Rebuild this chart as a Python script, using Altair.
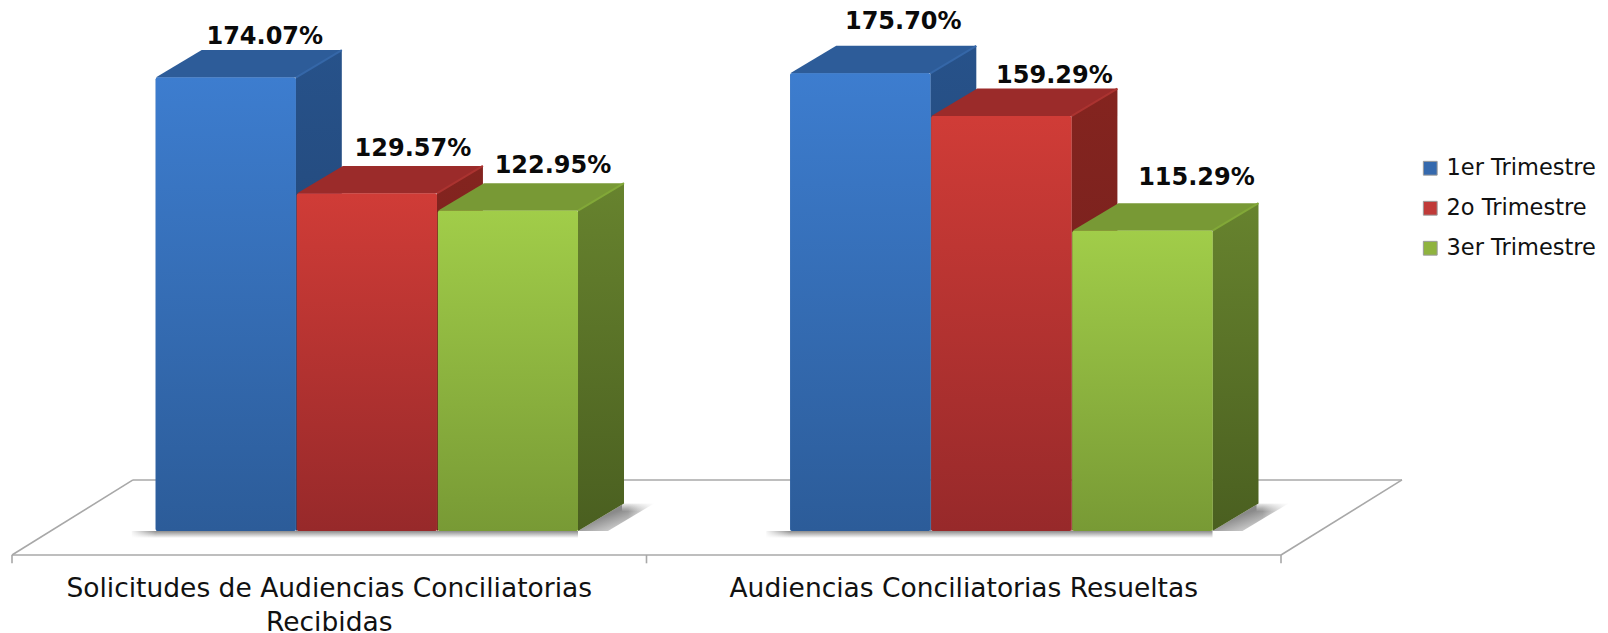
import altair as alt
import pandas as pd

categories = ["Solicitudes de Audiencias Conciliatorias\nRecibidas", "Audiencias Conciliatorias Resueltas"]
series = ["1er Trimestre", "2o Trimestre", "3er Trimestre"]
values_q1 = [174.07, 175.70]
values_q2 = [129.57, 159.29]
values_q3 = [122.95, 115.29]
values = [values_q1, values_q2, values_q3]

# layout in data units
W, H = 1592, 625
CAT_PX = 634.5
VAL_PX = 2.605
XD = [(-4) / CAT_PX, (W - 4) / CAT_PX]
YD = [-(H + 8 - 531) / VAL_PX, (531 - 8) / VAL_PX]
GAP = 0.2265
BW = 0.2208
DX = 46 / CAT_PX
DY = 27.5 / VAL_PX
FLOOR_FRONT = -9.2
FLOOR_BACK = 19.6
FLOOR_SHIFT = 121 / CAT_PX
label_dx = [[16, 20], [23, 30], [22, 31]]
label_dy = [[-13.5, -23.5], [-16.5, -12.5], [-17.5, -25.5]]

front = [("#3d7dcf", "#2c5c99"), ("#d03c37", "#97292a"), ("#a1cd49", "#789a35")]
side = [("#27528a", "#1f3f6b"), ("#84241f", "#6f1f1d"), ("#67832e", "#4a5f20")]
roof = ["#2d5c99", "#9b2b2a", "#789935"]
edge = ["#3567a8", "#ab3330", "#82a838"]
mid = ["#3569ad", "#c03a38", "#8fb33f"]
GRID = "#a8a8a8"

x_s = alt.Scale(domain=XD, nice=False, zero=False)
y_s = alt.Scale(domain=YD, nice=False, zero=False)
X = lambda f="x": alt.X(f"{f}:Q", scale=x_s, axis=None, title=None)
Y = lambda f="y": alt.Y(f"{f}:Q", scale=y_s, axis=None, title=None)
X2 = lambda f="x2": alt.X2(f"{f}:Q")
Y2 = lambda f="y2": alt.Y2(f"{f}:Q")


def grad(c0, c1, x2=0, y2=1, hold=0.0):
    stops = [alt.GradientStop(color=c0, offset=0)]
    if hold:
        stops.append(alt.GradientStop(color=c0, offset=hold))
    stops.append(alt.GradientStop(color=c1, offset=1))
    return alt.Gradient(gradient="linear", x1=0, y1=0, x2=x2, y2=y2, stops=stops)


layers = []

# floor
floor = pd.DataFrame([
    dict(k="front", x=0, y=FLOOR_FRONT), dict(k="front", x=2, y=FLOOR_FRONT),
    dict(k="right", x=2, y=FLOOR_FRONT), dict(k="right", x=2 + FLOOR_SHIFT, y=FLOOR_BACK),
    dict(k="back", x=2 + FLOOR_SHIFT, y=FLOOR_BACK), dict(k="back", x=FLOOR_SHIFT, y=FLOOR_BACK),
    dict(k="left", x=FLOOR_SHIFT, y=FLOOR_BACK), dict(k="left", x=0, y=FLOOR_FRONT),
])
layers.append(alt.Chart(floor).mark_line(color=GRID, strokeWidth=1.6).encode(x=X(), y=Y(), detail="k:N"))
ticks = pd.DataFrame({"x": [0, 1, 2], "y": [FLOOR_FRONT] * 3, "y2": [FLOOR_FRONT - 3.2] * 3})
layers.append(alt.Chart(ticks).mark_rule(color=GRID, strokeWidth=1.6).encode(x=X(), y=Y(), y2=Y2()))

# shadows on the floor
for c in range(2):
    left = c + GAP
    right = left + 3 * BW + 2 * 1 / CAT_PX
    below = pd.DataFrame({"x": [left - 24 / CAT_PX], "x2": [right], "y": [0], "y2": [-7 / VAL_PX]})
    layers.append(alt.Chart(below).mark_rect(color=grad("#8c8c8c", "#ffffff")).encode(x=X(), x2=X2(), y=Y(), y2=Y2()))
    fade = pd.DataFrame({"x": [left - 26 / CAT_PX], "x2": [left], "y": [0.4], "y2": [-7.5 / VAL_PX]})
    layers.append(alt.Chart(fade).mark_rect(color=grad("#ffffff", "#ffffff00", 1, 0)).encode(x=X(), x2=X2(), y=Y(), y2=Y2()))
    sh = pd.DataFrame({"y": [0, DY], "x": [right, right + DX], "x2": [right + 30 / CAT_PX, right + DX + 30 / CAT_PX]})
    layers.append(alt.Chart(sh).mark_area(orient="horizontal", color=grad("#8a8a8a", "#ffffff", 0.95, 0.95, 0.42)).encode(y=Y(), x=X(), x2=X2()))
    soft = pd.DataFrame({"x": [right + DX - 2 / CAT_PX], "x2": [right + DX + 34 / CAT_PX], "y": [DY + 0.6], "y2": [DY - 8 / VAL_PX]})
    layers.append(alt.Chart(soft).mark_rect(color=grad("#ffffff", "#ffffff00")).encode(x=X(), x2=X2(), y=Y(), y2=Y2()))
    tail = pd.DataFrame({"x": [right + DX + 4 / CAT_PX], "x2": [right + DX + 34 / CAT_PX], "y": [DY + 0.6], "y2": [-1]})
    layers.append(alt.Chart(tail).mark_rect(color=grad("#ffffff00", "#ffffff", 1, 0)).encode(x=X(), x2=X2(), y=Y(), y2=Y2()))

# bars, series by series so that later series sit in front
for s, name in enumerate(series):
    side_rows, roof_rows, front_rows, edge_rows = [], [], [], []
    for c in range(2):
        v = values[s][c]
        xl = c + GAP + s * (BW + 1 / CAT_PX)
        xr = xl + BW
        bid = f"{s}-{c}"
        side_rows += [dict(b=bid, x=xr, y=v, y2=0), dict(b=bid, x=xr + DX, y=v + DY, y2=DY)]
        roof_rows += [dict(b=bid, y=v, x=xl, x2=xr), dict(b=bid, y=v + DY, x=xl + DX, x2=xr + DX)]
        edge_rows += [dict(b=bid, x=xr, y=v), dict(b=bid, x=xr + DX, y=v + DY)]
        front_rows.append(dict(b=bid, s=name, x=xl, x2=xr, y=v, y2=0))
    layers.append(alt.Chart(pd.DataFrame(side_rows)).mark_area(color=grad(*side[s])).encode(x=X(), y=Y(), y2=Y2(), detail="b:N"))
    layers.append(alt.Chart(pd.DataFrame(roof_rows)).mark_area(orient="horizontal", color=roof[s]).encode(y=Y(), x=X(), x2=X2(), detail="b:N"))
    layers.append(alt.Chart(pd.DataFrame(edge_rows)).mark_line(color=edge[s], strokeWidth=2).encode(x=X(), y=Y(), detail="b:N"))
    df = pd.DataFrame(front_rows)
    layers.append(alt.Chart(df).mark_rect(cornerRadius=2).encode(
        x=X(), x2=X2(), y=Y(), y2=Y2(),
        color=alt.Color("s:N", scale=alt.Scale(domain=series, range=mid), legend=alt.Legend(
            title=None, orient="none", legendX=1411, legendY=149, symbolType="square", symbolSize=190,
            symbolStrokeColor="#9a9a9a", symbolStrokeWidth=1, rowPadding=17, labelFontSize=22.5, labelLimit=240,
            labelFont="DejaVu Sans", labelColor="#111111", labelOffset=5, symbolOpacity=1)),
    ))
    layers.append(alt.Chart(df).mark_rect(cornerRadius=2, color=grad(*front[s])).encode(x=X(), x2=X2(), y=Y(), y2=Y2()))

# value labels
rows = []
for s in range(3):
    for c in range(2):
        v = values[s][c]
        xl = c + GAP + s * (BW + 1 / CAT_PX)
        rows.append(dict(x=xl + BW / 2 + DX / 2 + label_dx[s][c] / CAT_PX,
                         y=v + DY - label_dy[s][c] / VAL_PX, t=f"{v:.2f}%"))
layers.append(alt.Chart(pd.DataFrame(rows)).mark_text(
    font="DejaVu Sans", fontWeight="bold", fontSize=24, color="#0a0a0a", baseline="middle", align="center"
).encode(x=X(), y=Y(), text="t:N"))

# category labels
cat_df = pd.DataFrame({"x": [0.5, 1.5], "y": [-17.4, -17.4], "t": categories})
layers.append(alt.Chart(cat_df).mark_text(
    font="DejaVu Sans", fontSize=26.5, color="#111111", baseline="top", align="center", lineBreak="\n", lineHeight=34
).encode(x=X(), y=Y(), text="t:N"))

chart = alt.layer(*layers).resolve_scale(color="shared").properties(
    width=W, height=H, padding=0, autosize=alt.AutoSizeParams(type="none"), background="white"
).configure_view(stroke=None)

chart.save("out.html", embed_options={"renderer": "svg", "actions": False})
